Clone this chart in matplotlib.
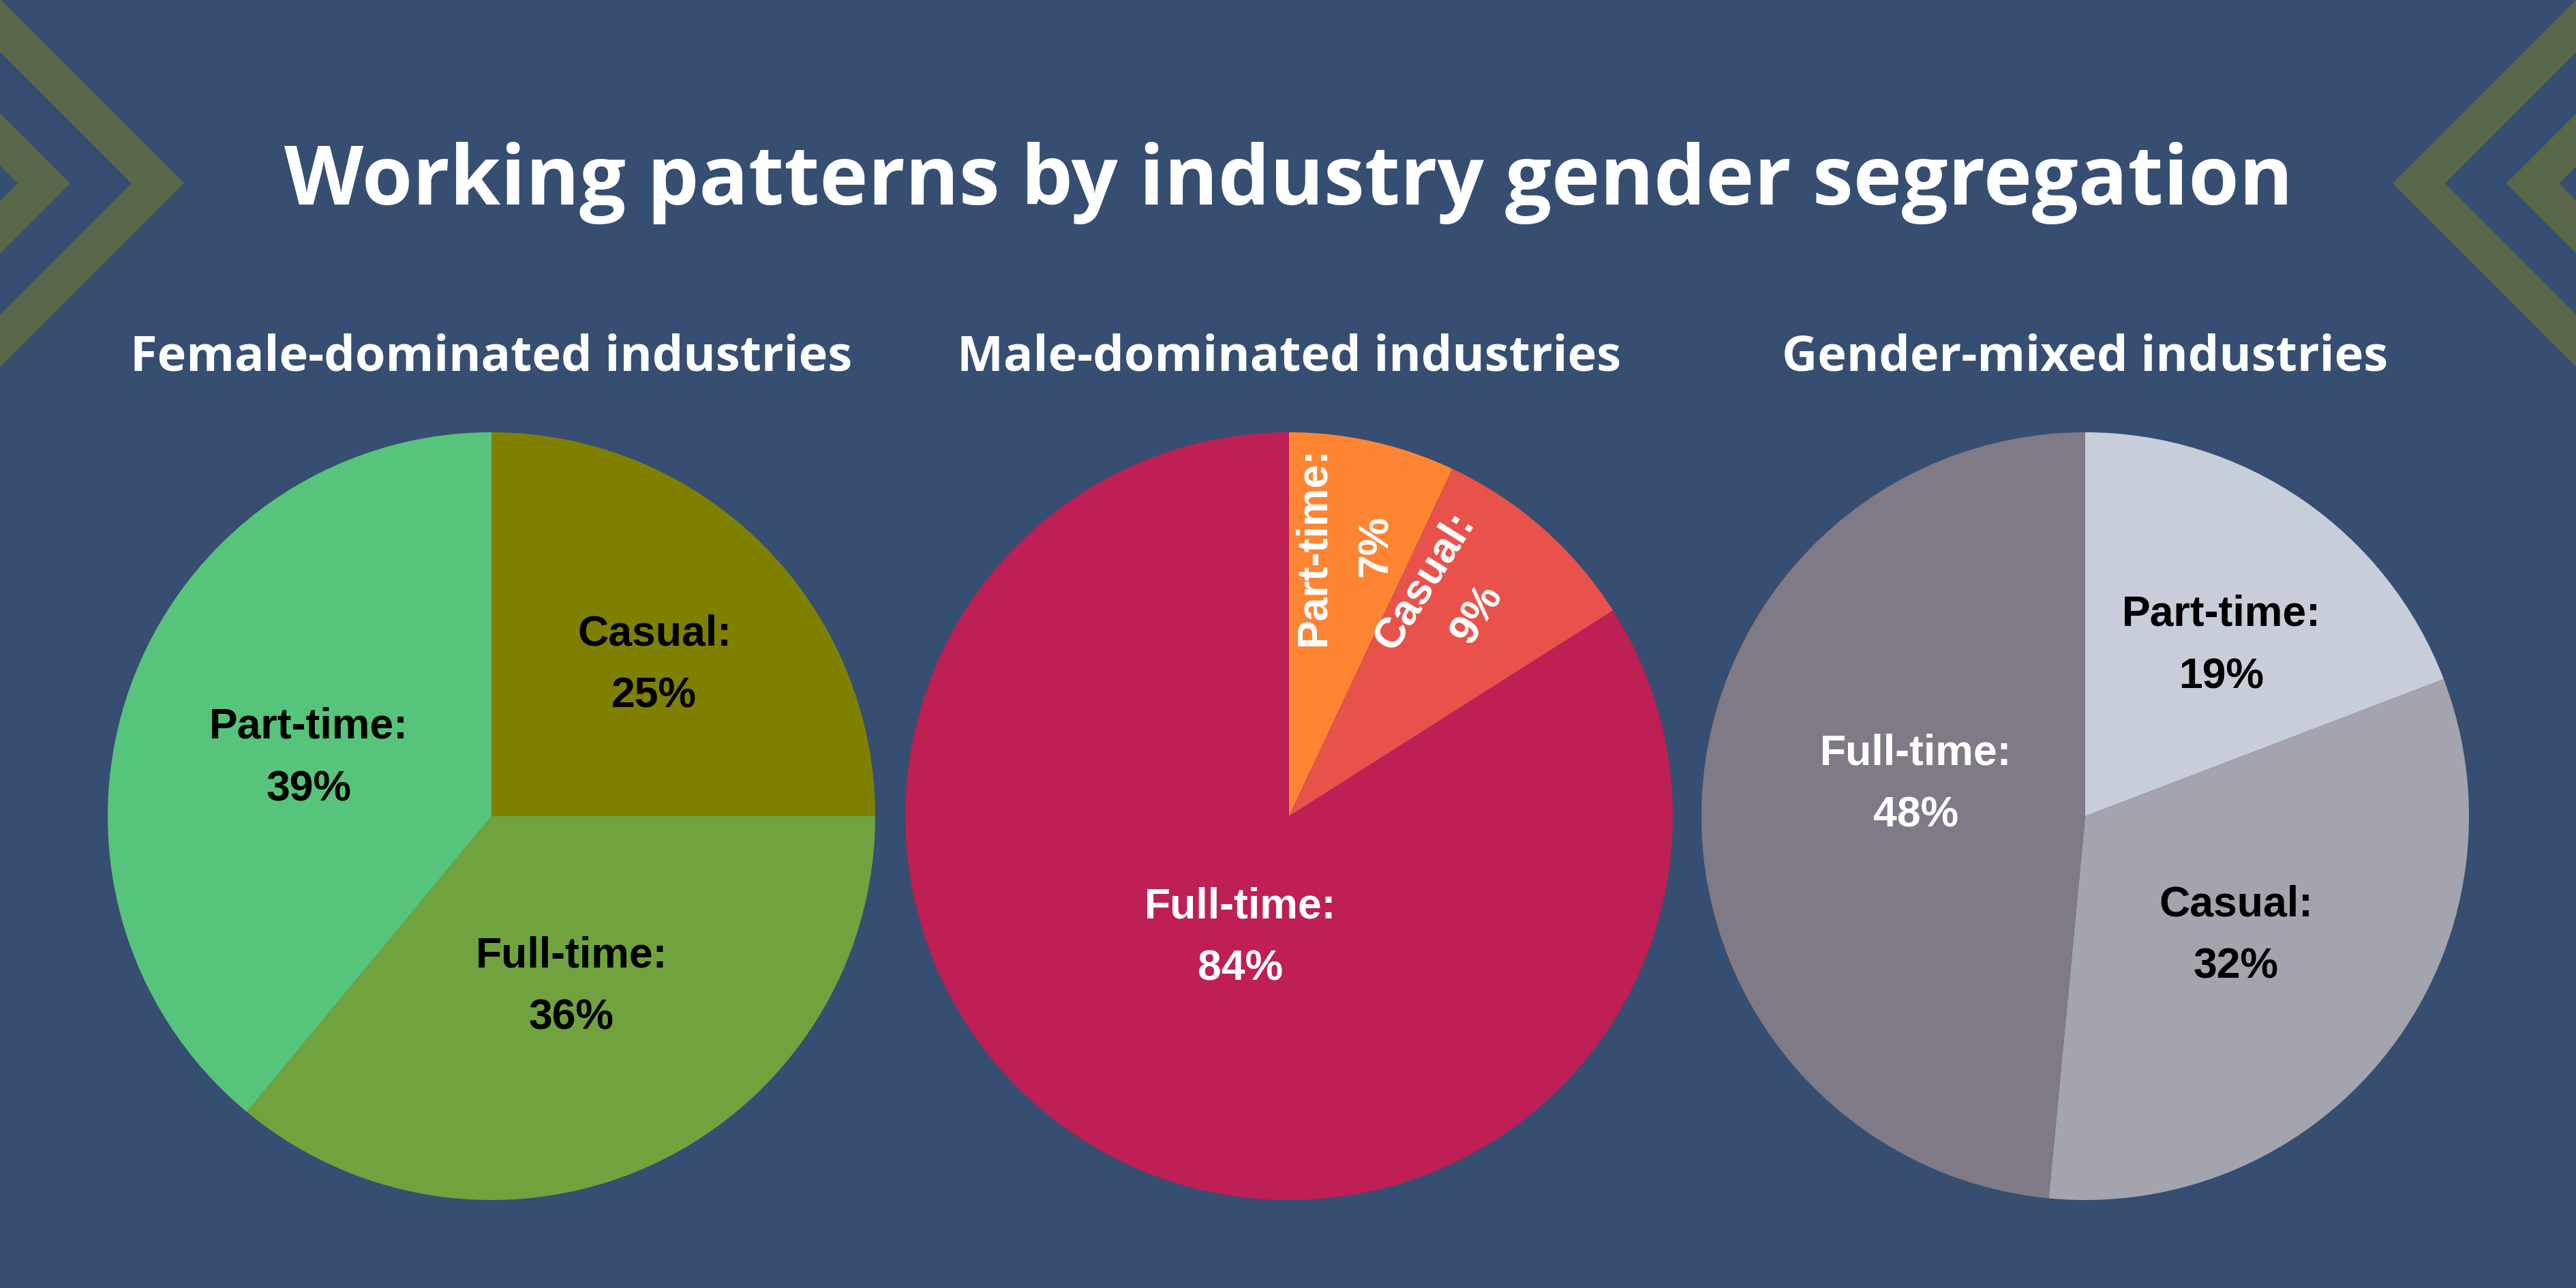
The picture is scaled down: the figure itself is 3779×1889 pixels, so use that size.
import matplotlib
matplotlib.use("Agg")
import matplotlib.pyplot as plt
import numpy as np
from matplotlib.patches import Polygon

BG = "#364e71"
CHEVRON = "#5b6749"

TITLE = "Working patterns by industry gender segregation"
PANEL_TITLES = ["Female-dominated industries", "Male-dominated industries",
                "Gender-mixed industries"]

# wedges in drawing order (clockwise from 12 o'clock)
female_cats = ["Casual", "Full-time", "Part-time"]
female_vals = [25, 36, 39]
male_cats = ["Part-time", "Casual", "Full-time"]
male_vals = [7, 9, 84]
mixed_cats = ["Part-time", "Casual", "Full-time"]
mixed_vals = [19, 32, 48]

female_colors = ["#808000", "#70a33e", "#56c47a"]
male_colors = ["#ff8533", "#e8524a", "#be1f55"]
mixed_colors = ["#c7ced9", "#a4a4ae", "#807a86"]

W, H = 3780, 1890
fig = plt.figure(figsize=(W / 100, H / 100), dpi=100, facecolor=BG)

# ---- background decoration: chevrons in both top corners
bg = fig.add_axes([0, 0, 1, 1])
bg.set_xlim(0, W)
bg.set_ylim(H, 0)
bg.axis("off")
yc, L, band = 270, 600, 77


def chevron(tip, direction):
    d = direction
    inner = tip - d * band
    pts = [(tip, yc), (tip - d * L, yc + L), (inner - d * L, yc + L),
           (inner, yc), (inner - d * L, yc - L), (tip - d * L, yc - L)]
    bg.add_patch(Polygon(pts, closed=True, color=CHEVRON, lw=0))


for tip in (270, 103):
    chevron(tip, 1)
    chevron(W - tip, -1)

# ---- titles
renderer = fig.canvas.get_renderer()


def fit(txt, target):
    w = txt.get_window_extent(renderer).width
    txt.set_fontsize(txt.get_fontsize() * target / w)


t = fig.text(0.5, 1 - 300 / H, TITLE, ha="center", va="baseline",
             color="white", fontsize=90, fontweight="bold", family="Open Sans")
fit(t, 2948)

centers = [721, 1891, 3059]
subs = []
for cx, name in zip(centers, PANEL_TITLES):
    subs.append(fig.text(cx / W, 1 - 544 / H, name, ha="center",
                         va="baseline", color="white", fontsize=40,
                         fontweight="bold", family="Open Sans"))
fit(subs[0], 1058)
for st in subs[1:]:
    st.set_fontsize(subs[0].get_fontsize())

# ---- pies
R = 563
cy = 1198
panels = [
    (female_cats, female_vals, female_colors,
     ["black", "black", "black"], [0.58, 0.49, 0.50], [-2, 0, 2], [0, 0, 0]),
    (male_cats, male_vals, male_colors,
     ["white", "white", "white"], [0.72, 0.71, 0.34], [1, 5, 7], [90, 58, 0]),
    (mixed_cats, mixed_vals, mixed_colors,
     ["black", "black", "white"], [0.57, 0.50, 0.45], [-4, -1, -8], [0, 0, 0]),
]

for cx, (cats, vals, cols, tcols, rfr, dang, rot) in zip(centers, panels):
    ax = fig.add_axes([(cx - R) / W, (H - cy - R) / H, 2 * R / W, 2 * R / H])
    wedges, _ = ax.pie(vals, colors=cols, startangle=90, counterclock=False,
                       radius=1, wedgeprops=dict(linewidth=0))
    ax.set_xlim(-1, 1)
    ax.set_ylim(-1, 1)
    ax.axis("off")
    for w, c, v, tc, r, da, ro in zip(wedges, cats, vals, tcols, rfr, dang, rot):
        ang = np.deg2rad((w.theta1 + w.theta2) / 2 + da)
        ax.text(r * np.cos(ang), r * np.sin(ang), f"{c}:\n{v}%",
                ha="center", va="center", ma="center", rotation=ro,
                rotation_mode="anchor", color=tc, fontsize=45,
                fontweight="bold", family="Liberation Sans", linespacing=1.7)

fig.savefig("out.png", dpi=100, facecolor=BG)
